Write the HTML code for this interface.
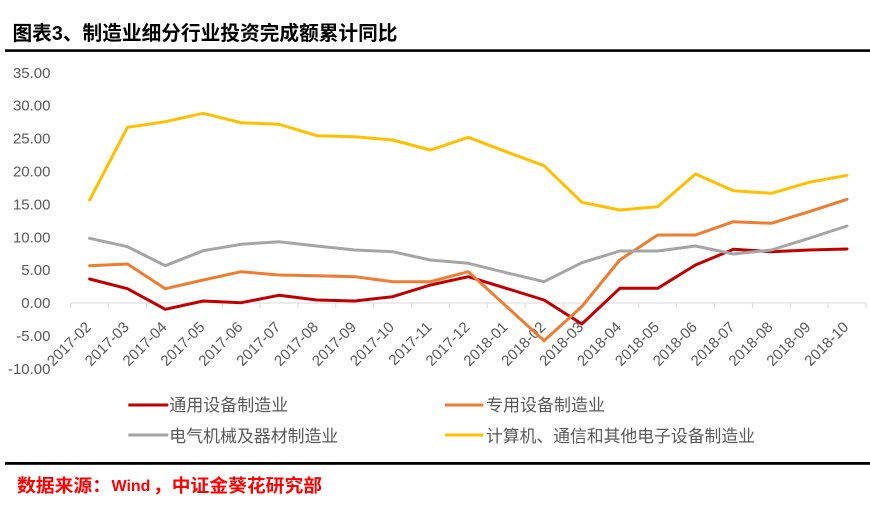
<!DOCTYPE html>
<html>
<head>
<meta charset="utf-8">
<style>
  html, body { margin:0; padding:0; background:#fff; }
  body { width:870px; height:519px; overflow:hidden; }
  svg { display:block; }
</style>
</head>
<body>
<svg width="870" height="519" viewBox="0 0 870 519" xmlns="http://www.w3.org/2000/svg">
  <rect x="0" y="0" width="870" height="519" fill="#ffffff"/>

  <!-- Title -->
  <text x="12.5" y="40" font-family="'Liberation Sans','Noto Sans CJK SC',sans-serif" font-size="20" font-weight="bold" fill="#000" textLength="385" lengthAdjust="spacingAndGlyphs">图表3、制造业细分行业投资完成额累计同比</text>
  <rect x="5" y="49.3" width="865" height="2.6" fill="#000"/>

  <!-- Y axis labels -->
  <g font-family="'Liberation Sans',sans-serif" font-size="15" fill="#595959" text-anchor="end">
    <text x="50.5" y="77.8">35.00</text>
    <text x="50.5" y="110.7">30.00</text>
    <text x="50.5" y="143.6">25.00</text>
    <text x="50.5" y="176.5">20.00</text>
    <text x="50.5" y="209.4">15.00</text>
    <text x="50.5" y="242.3">10.00</text>
    <text x="50.5" y="275.2">5.00</text>
    <text x="50.5" y="308.1">0.00</text>
    <text x="50.5" y="341.0">-5.00</text>
    <text x="50.5" y="373.9">-10.00</text>
  </g>

  <!-- X axis line and ticks -->
  <g stroke="#D9D9D9" stroke-width="1" fill="none">
    <line x1="70.7" y1="303" x2="866" y2="303"/>
    <path d="M70.7 303v5 M108.6 303v5 M146.4 303v5 M184.3 303v5 M222.2 303v5 M260.1 303v5 M297.9 303v5 M335.8 303v5 M373.7 303v5 M411.5 303v5 M449.4 303v5 M487.3 303v5 M525.1 303v5 M563.0 303v5 M600.9 303v5 M638.8 303v5 M676.6 303v5 M714.5 303v5 M752.4 303v5 M790.2 303v5 M828.1 303v5 M866 303v5"/>
  </g>

  <!-- X labels -->
  <g font-family="'Liberation Sans',sans-serif" font-size="15" fill="#595959" text-anchor="end">
    <text transform="translate(92,328) rotate(-45)">2017-02</text>
    <text transform="translate(129.9,328) rotate(-45)">2017-03</text>
    <text transform="translate(167.7,328) rotate(-45)">2017-04</text>
    <text transform="translate(205.6,328) rotate(-45)">2017-05</text>
    <text transform="translate(243.5,328) rotate(-45)">2017-06</text>
    <text transform="translate(281.4,328) rotate(-45)">2017-07</text>
    <text transform="translate(319.2,328) rotate(-45)">2017-08</text>
    <text transform="translate(357.1,328) rotate(-45)">2017-09</text>
    <text transform="translate(395,328) rotate(-45)">2017-10</text>
    <text transform="translate(432.8,328) rotate(-45)">2017-11</text>
    <text transform="translate(470.7,328) rotate(-45)">2017-12</text>
    <text transform="translate(508.6,328) rotate(-45)">2018-01</text>
    <text transform="translate(546.4,328) rotate(-45)">2018-02</text>
    <text transform="translate(584.3,328) rotate(-45)">2018-03</text>
    <text transform="translate(622.2,328) rotate(-45)">2018-04</text>
    <text transform="translate(660.1,328) rotate(-45)">2018-05</text>
    <text transform="translate(697.9,328) rotate(-45)">2018-06</text>
    <text transform="translate(735.8,328) rotate(-45)">2018-07</text>
    <text transform="translate(773.7,328) rotate(-45)">2018-08</text>
    <text transform="translate(811.5,328) rotate(-45)">2018-09</text>
    <text transform="translate(849.4,328) rotate(-45)">2018-10</text>
  </g>

  <!-- Series -->
  <g fill="none" stroke-width="3" stroke-linejoin="round" stroke-linecap="round">
    <polyline stroke="#C00000" points="89.6,279 127.5,288.7 165.3,309.3 203.2,301 241.1,302.7 279,295.3 316.8,300 354.7,301 392.6,296.7 430.4,285 468.3,276.7 506.2,288.3 544,300 581.9,324 619.8,288.3 657.7,288.3 695.5,265 733.4,249.3 771.3,251.7 809.1,250 847,249"/>
    <polyline stroke="#ED7D31" points="89.6,265.7 127.5,264 165.3,288.7 203.2,280 241.1,271.7 279,275 316.8,275.7 354.7,276.7 392.6,281.7 430.4,281.7 468.3,271.7 506.2,306.2 544,340.7 581.9,306.5 619.8,260 657.7,235 695.5,235 733.4,221.7 771.3,223.3 809.1,211.7 847,199.3"/>
    <polyline stroke="#A5A5A5" points="89.6,238.3 127.5,246.7 165.3,265.7 203.2,250.7 241.1,244.3 279,241.7 316.8,246 354.7,250 392.6,251.7 430.4,260 468.3,263.3 506.2,272.7 544,281.7 581.9,262.7 619.8,251 657.7,251 695.5,246 733.4,254 771.3,250 809.1,238.3 847,226"/>
    <polyline stroke="#FFC000" points="89.6,200 127.5,127.3 165.3,121.7 203.2,113.3 241.1,122.7 279,124.3 316.8,135.7 354.7,136.7 392.6,140 430.4,150 468.3,137.3 506.2,151.7 544,165.7 581.9,202.3 619.8,210 657.7,206.7 695.5,174 733.4,190.7 771.3,193.3 809.1,182.3 847,175.3"/>
  </g>

  <!-- Legend -->
  <g stroke-width="3" stroke-linecap="butt">
    <line x1="128.3" y1="405" x2="168.3" y2="405" stroke="#C00000"/>
    <line x1="128.3" y1="435" x2="168.3" y2="435" stroke="#A5A5A5"/>
    <line x1="445" y1="405" x2="483.3" y2="405" stroke="#ED7D31"/>
    <line x1="445" y1="435" x2="483.3" y2="435" stroke="#FFC000"/>
  </g>
  <g font-family="'Liberation Sans','Noto Sans CJK SC',sans-serif" font-size="17" fill="#595959">
    <text x="169.3" y="411" textLength="119" lengthAdjust="spacingAndGlyphs">通用设备制造业</text>
    <text x="169.3" y="442" textLength="169" lengthAdjust="spacingAndGlyphs">电气机械及器材制造业</text>
    <text x="486" y="411" textLength="119" lengthAdjust="spacingAndGlyphs">专用设备制造业</text>
    <text x="486" y="442" textLength="269" lengthAdjust="spacingAndGlyphs">计算机、通信和其他电子设备制造业</text>
  </g>

  <!-- Bottom rule -->
  <rect x="5" y="462" width="865" height="2.8" fill="#000"/>

  <!-- Source -->
  <g font-family="'Liberation Sans','Noto Sans CJK SC',sans-serif" font-weight="bold" fill="#FF0000">
    <text x="17" y="492" font-size="18" textLength="94" lengthAdjust="spacingAndGlyphs">数据来源：</text>
    <text x="111.5" y="491" font-size="16">Wind</text>
    <text x="153" y="492" font-size="18" textLength="169" lengthAdjust="spacingAndGlyphs">，中证金葵花研究部</text>
  </g>
</svg>
</body>
</html>
